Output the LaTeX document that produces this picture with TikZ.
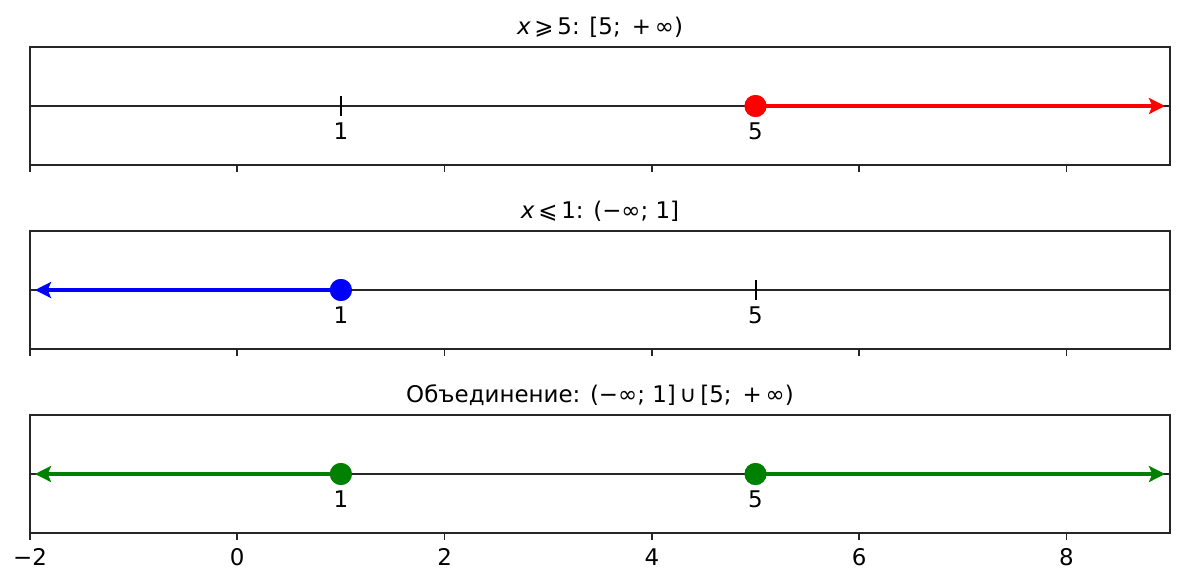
\documentclass[tikz,border=0pt]{standalone}
\usepackage{fontspec}
\setmainfont{DejaVu Sans}
\newfontfamily\obl{DejaVu Sans Oblique}
\usetikzlibrary{arrows.meta}
\definecolor{mplgreen}{RGB}{0,128,0}
\definecolor{spine}{RGB}{38,38,38}
\newcommand\mplfont{\fontsize{17.2}{20}\selectfont}
\begin{document}
\begin{tikzpicture}[x=0.75pt,y=-0.75pt,
  lbl/.style={font=\mplfont, inner sep=0pt},
  frame/.style={draw=spine, line width=1.3pt},
  numline/.style={draw=spine, line width=1.5pt},
  tk/.style={draw=black, line width=1.5pt},
  dot/.style={circle, fill=#1, minimum size=16.5pt, inner sep=0pt},
  ray/.style={draw=#1, line width=3.5pt, -{Stealth[length=12pt,width=12pt,inset=2.5pt]}},
  xtick/.style={draw=spine, line width=1.3pt}]
\useasboundingbox (0,0) rectangle (1185,583);
% panel geometry
\foreach \top/\mid in {47/106, 231/290, 415/474} {
  \draw[frame] (30,\top) rectangle (1170,\top+118);
  \draw[numline] (30,\mid) -- (1170,\mid);
  \foreach \v in {-2,0,...,8} {
    \draw[xtick] ({30+(\v+2)*103.636},\top+118) -- ({30+(\v+2)*103.636},\top+125);
  }
  \draw[tk] (340.9,\mid-10) -- (340.9,\mid+10);
  \draw[tk] (755.5,\mid-10) -- (755.5,\mid+10);
  \node[lbl] (l1) at (340.9,\mid+25) {1};
  \node[lbl] (l5) at (755.5,\mid+25) {5};
}
% bottom tick labels
\foreach \v in {-2,0,2,4,6,8} {
  \node[lbl] (t\v) at ({30+(\v+2)*103.636},557) {\ifnum\v<0 −2\else\v\fi};
}
% titles
\node[lbl] (title1) at (600,27) {{\obl x}\,⩾\,5: [5;\ \,+\,∞)};
\node[lbl] (title2) at (600,211) {{\obl x}\,⩽\,1: (−∞; 1]};
\node[lbl] (title3) at (600,395) {Объединение: (−∞; 1]\,∪\,[5;\ \,+\,∞)};
% panel 1
\coordinate (r1end) at (1165,106);
\node[dot=red] (d1) at (755.5,106) {};
\draw[ray=red] (d1.center) -- (r1end);
\node[dot=red] at (755.5,106) {};
% panel 2
\coordinate (b2end) at (35,290);
\node[dot=blue] (d2) at (340.9,290) {};
\draw[ray=blue] (d2.center) -- (b2end);
\node[dot=blue] at (340.9,290) {};
% panel 3
\coordinate (g3l) at (35,474);
\coordinate (g3r) at (1165,474);
\node[dot=mplgreen] (d3a) at (340.9,474) {};
\node[dot=mplgreen] (d3b) at (755.5,474) {};
\draw[ray=mplgreen] (d3a.center) -- (g3l);
\draw[ray=mplgreen] (d3b.center) -- (g3r);
\node[dot=mplgreen] at (340.9,474) {};
\node[dot=mplgreen] at (755.5,474) {};
\end{tikzpicture}
\end{document}
